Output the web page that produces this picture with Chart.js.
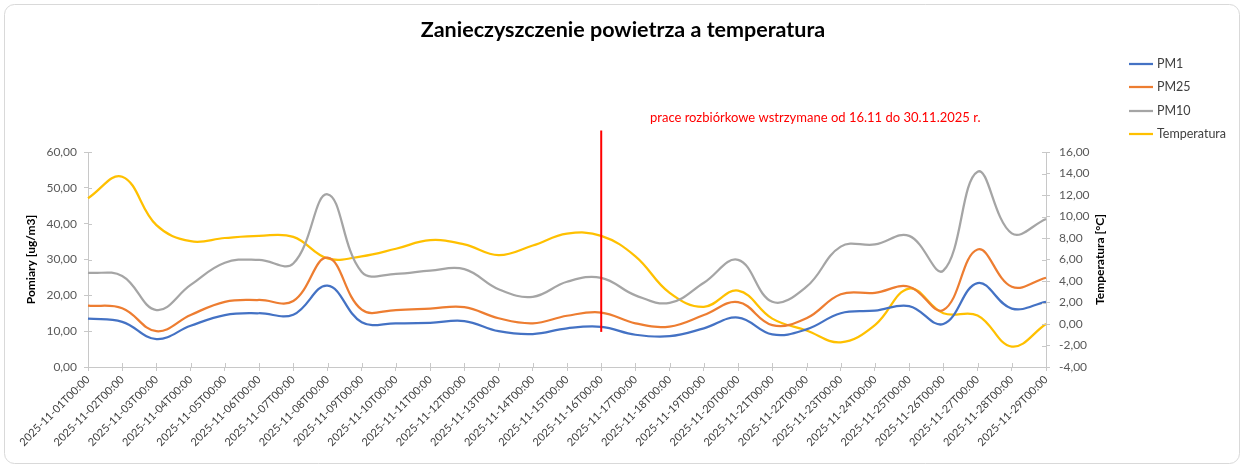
<!DOCTYPE html>
<html>
<head>
<meta charset="utf-8">
<script src="https://cdn.jsdelivr.net/npm/chart.js@4"></script>
<style>
html,body{margin:0;padding:0;background:#fff;}
#wrap{position:relative;width:1245px;height:468px;}
</style>
</head>
<body>
<div id="wrap"><canvas id="c" width="1245" height="468"></canvas></div>
<script>
const categories = ["2025-11-01T00:00","2025-11-02T00:00","2025-11-03T00:00","2025-11-04T00:00","2025-11-05T00:00","2025-11-06T00:00","2025-11-07T00:00","2025-11-08T00:00","2025-11-09T00:00","2025-11-10T00:00","2025-11-11T00:00","2025-11-12T00:00","2025-11-13T00:00","2025-11-14T00:00","2025-11-15T00:00","2025-11-16T00:00","2025-11-17T00:00","2025-11-18T00:00","2025-11-19T00:00","2025-11-20T00:00","2025-11-21T00:00","2025-11-22T00:00","2025-11-23T00:00","2025-11-24T00:00","2025-11-25T00:00","2025-11-26T00:00","2025-11-27T00:00","2025-11-28T00:00","2025-11-29T00:00"];
const pm1  = [13.5,12.6,7.8,11.5,14.5,15.0,14.6,22.7,12.5,12.2,12.3,12.8,10.0,9.2,10.8,11.2,9.0,8.6,10.8,13.8,9.1,10.5,15.0,15.7,17.0,12.0,23.4,16.3,18.2];
const pm25 = [17.1,16.4,10.0,14.5,18.2,18.7,18.4,30.5,16.0,15.9,16.3,16.7,13.6,12.2,14.3,15.2,12.2,11.3,14.5,18.1,11.7,13.6,20.3,20.7,22.4,15.9,32.8,22.4,24.9];
const pm10 = [26.3,25.4,15.9,22.9,29.1,29.9,28.9,48.2,26.5,26.0,26.9,27.3,21.7,19.6,23.8,24.9,20.0,17.9,23.5,29.9,18.2,22.4,33.6,34.2,36.6,26.9,54.5,37.3,41.3];
const temperatura = [11.7,13.7,9.2,7.7,8.0,8.2,8.1,6.1,6.3,7.0,7.8,7.4,6.4,7.3,8.4,8.2,6.3,2.9,1.6,3.1,0.5,-0.6,-1.7,-0.1,3.3,1.0,0.8,-2.1,0.0];
const seriesNames = ["PM1","PM25","PM10","Temperatura"];
const leftTicks = {min:0, max:60, step:10};
const rightTicks = {min:-4, max:16, step:2};
const markerCategory = "2025-11-16T00:00";
const markerRange = [9.8, 66];
const markerText = "prace rozbiórkowe wstrzymane od 16.11 do 30.11.2025 r.";
const chartTitle = "Zanieczyszczenie powietrza a temperatura";
const leftTitle = "Pomiary [ug/m3]";
const rightTitle = "Temperatura [°C]";

const FONT = "Lato, 'Open Sans', sans-serif";
const AXIS = '#c8c8c8';
const fmt = v => v.toFixed(2).replace('.', ',');

const extras = {
  id: 'extras',
  beforeDraw(chart) {
    const ctx = chart.ctx;
    ctx.save();
    ctx.fillStyle = '#fff';
    ctx.fillRect(0,0,chart.width,chart.height);
    ctx.strokeStyle = '#d9d9d9';
    ctx.lineWidth = 1;
    ctx.beginPath();
    ctx.roundRect(4.5,4.5,1235,459,10);
    ctx.stroke();
    ctx.restore();
  },
  afterDraw(chart) {
    const ctx = chart.ctx;
    const {chartArea} = chart;
    const x = chart.scales.x, yl = chart.scales.y, yr = chart.scales.y1;
    ctx.save();
    // title
    ctx.fillStyle = '#000';
    ctx.font = "bold 21.5px " + FONT;
    ctx.textAlign = 'center'; ctx.textBaseline = 'middle';
    ctx.fillText(chartTitle, 623, 30);
    // inner tick marks (cross style)
    ctx.strokeStyle = AXIS; ctx.lineWidth = 1;
    ctx.beginPath();
    yl.ticks.forEach((t,i)=>{ const p = Math.round(yl.getPixelForTick(i))+0.5; ctx.moveTo(chartArea.left, p); ctx.lineTo(chartArea.left+4, p); });
    yr.ticks.forEach((t,i)=>{ const p = Math.round(yr.getPixelForTick(i))+0.5; ctx.moveTo(chartArea.right-4, p); ctx.lineTo(chartArea.right, p); });
    x.ticks.forEach((t,i)=>{ const p = Math.round(x.getPixelForTick(i))+0.5; ctx.moveTo(p, chartArea.bottom-4); ctx.lineTo(p, chartArea.bottom); });
    ctx.stroke();
    // marker line
    const mx = x.getPixelForValue(categories.indexOf(markerCategory));
    ctx.strokeStyle = '#ff0000'; ctx.lineWidth = 2;
    ctx.beginPath();
    ctx.moveTo(mx, yl.getPixelForValue(markerRange[0]));
    ctx.lineTo(mx, yl.getPixelForValue(markerRange[1]));
    ctx.stroke();
    // marker text
    ctx.fillStyle = '#ff0000';
    ctx.font = "13px " + FONT;
    ctx.textBaseline = 'middle'; ctx.textAlign = 'left';
    ctx.fillText(markerText, 650, 118);
    // right axis title
    ctx.save();
    ctx.translate(1100, (chartArea.top+chartArea.bottom)/2);
    ctx.rotate(-Math.PI/2);
    ctx.fillStyle = '#000';
    ctx.font = "bold 12px " + FONT;
    ctx.textAlign = 'center'; ctx.textBaseline = 'middle';
    ctx.fillText(rightTitle, 0, 0);
    ctx.restore();
    // legend
    const ly = [64, 87, 111, 134];
    chart.data.datasets.forEach((ds,i)=>{
      ctx.strokeStyle = ds.borderColor; ctx.lineWidth = 2.25;
      ctx.beginPath(); ctx.moveTo(1129, ly[i]); ctx.lineTo(1153, ly[i]); ctx.stroke();
      ctx.fillStyle = '#404040';
      ctx.font = "12.5px " + FONT;
      ctx.textAlign = 'left'; ctx.textBaseline = 'middle';
      ctx.fillText(ds.label, 1157, ly[i]);
    });
    ctx.restore();
  }
};

const common = {fill:false, pointRadius:0, pointHoverRadius:0, borderWidth:2.25, tension:0.4};
new Chart(document.getElementById('c'), {
  type: 'line',
  data: {
    labels: categories,
    datasets: [
      {...common, label: seriesNames[0], data: pm1, borderColor:'#4472C4', yAxisID:'y'},
      {...common, label: seriesNames[1], data: pm25, borderColor:'#ED7D31', yAxisID:'y'},
      {...common, label: seriesNames[2], data: pm10, borderColor:'#A5A5A5', yAxisID:'y'},
      {...common, label: seriesNames[3], data: temperatura, borderColor:'#FFC000', yAxisID:'y1'}
    ]
  },
  options: {
    responsive: false,
    animation: false,
    events: [],
    layout: {padding: {left:5, right:99, top:152, bottom:5}},
    plugins: {
      legend: {display:false},
      tooltip: {enabled:false},
      title: {display:false}
    },
    scales: {
      x: {
        offset:false,
        grid:{display:true, drawOnChartArea:false, drawTicks:true, tickLength:4, color:AXIS},
        border:{display:true, color:AXIS},
        ticks:{autoSkip:false, maxRotation:45, minRotation:45, color:'#404040', padding:2, font:{family:FONT, size:11}},
        afterFit(s){ s.height = 96; }
      },
      y: {
        position:'left', min:leftTicks.min, max:leftTicks.max,
        grid:{display:true, drawOnChartArea:false, drawTicks:true, tickLength:4, color:AXIS},
        border:{display:true, color:AXIS},
        ticks:{stepSize:leftTicks.step, color:'#595959', padding:7, font:{family:FONT, size:12}, callback:v=>fmt(v)},
        title:{display:true, text:leftTitle, color:'#000', font:{family:FONT, size:12, weight:'bold', lineHeight:1.2}, padding:{top:19, bottom:0}},
        afterFit(s){ s.width = 83; }
      },
      y1: {
        position:'right', min:rightTicks.min, max:rightTicks.max,
        grid:{display:true, drawOnChartArea:false, drawTicks:true, tickLength:4, color:AXIS},
        border:{display:true, color:AXIS},
        ticks:{stepSize:rightTicks.step, color:'#595959', padding:9, font:{family:FONT, size:12}, callback:v=>fmt(v)},
        afterFit(s){ s.width = 100; }
      }
    }
  },
  plugins: [extras]
});
</script>
</body>
</html>
